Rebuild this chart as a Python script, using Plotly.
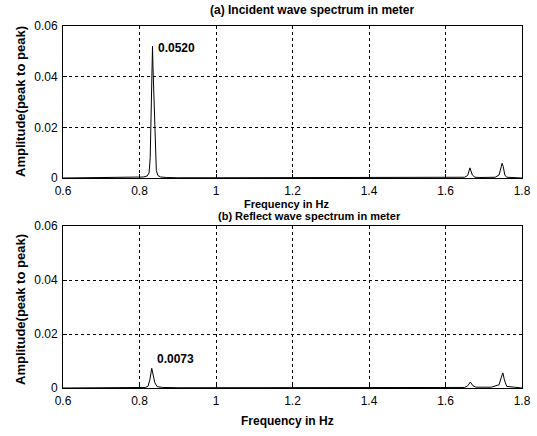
import plotly.graph_objects as go

# Frequency (Hz) and amplitude (m, peak to peak)
freq_a = [0.60, 0.70, 0.75, 0.80, 0.81, 0.82, 0.825, 0.828, 0.830, 0.832, 0.834, 0.835, 0.837,
          0.839, 0.841, 0.844, 0.848, 0.855, 0.87, 0.90, 1.00, 1.20, 1.40, 1.60, 1.65, 1.658,
          1.664, 1.670, 1.677, 1.69, 1.73, 1.740, 1.745, 1.748, 1.751, 1.755, 1.760, 1.77, 1.79, 1.80]
amp_a = [0.0, 0.0001, 0.0002, 0.0003, 0.0004, 0.0008, 0.002, 0.008, 0.020, 0.038, 0.052, 0.045, 0.035,
         0.022, 0.010, 0.003, 0.001, 0.0004, 0.0002, 0.0001, 0.0001, 0.0001, 0.0001, 0.0002, 0.0003, 0.001,
         0.004, 0.0012, 0.0003, 0.0002, 0.0003, 0.0012, 0.004, 0.0058, 0.0045, 0.0012, 0.0003, 0.0002, 0.0002, 0.0]

freq_b = [0.60, 0.70, 0.80, 0.815, 0.822, 0.827, 0.832, 0.836, 0.840, 0.846, 0.86, 0.90, 1.00,
          1.20, 1.40, 1.60, 1.65, 1.658, 1.665, 1.672, 1.68, 1.72, 1.740, 1.746, 1.750, 1.754,
          1.760, 1.78, 1.80]
amp_b = [0.0, 0.0001, 0.0001, 0.0002, 0.0006, 0.003, 0.0073, 0.005, 0.002, 0.0005, 0.0002, 0.0001, 0.0001,
         0.0001, 0.0001, 0.0001, 0.0002, 0.0008, 0.0022, 0.0008, 0.0003, 0.0003, 0.0012, 0.004, 0.0056, 0.003,
         0.0006, 0.0003, 0.0]

x_ticks = [0.6, 0.8, 1.0, 1.2, 1.4, 1.6, 1.8]
x_labels = ["0.6", "0.8", "1", "1.2", "1.4", "1.6", "1.8"]
y_ticks = [0, 0.02, 0.04, 0.06]
y_labels = ["0", "0.02", "0.04", "0.06"]

W, H = 537, 436
font = "Liberation Sans, Arial, sans-serif"

fig = go.Figure()
fig.add_trace(go.Scatter(x=freq_a, y=amp_a, mode="lines", line=dict(color="black", width=1),
                         xaxis="x", yaxis="y", showlegend=False))
fig.add_trace(go.Scatter(x=freq_b, y=amp_b, mode="lines", line=dict(color="black", width=1),
                         xaxis="x2", yaxis="y2", showlegend=False))

def px_x(p):
    return p / W

def px_y(p):
    return 1 - p / H

axis_common = dict(showline=True, linecolor="black", linewidth=1, mirror=True,
                   showgrid=True, gridcolor="black", griddash="dot", gridwidth=1,
                   ticks="inside", ticklen=4, tickcolor="black", zeroline=False,
                   automargin=False,
                   tickfont=dict(family=font, size=12, color="black"))

xdom = [px_x(63), px_x(522)]
fig.update_layout(
    width=W, height=H,
    margin=dict(l=0, r=0, t=0, b=0, pad=0),
    paper_bgcolor="white", plot_bgcolor="white",
    xaxis=dict(domain=xdom, range=[0.6, 1.8], tickvals=x_ticks, ticktext=x_labels,
               anchor="y", ticklabelstandoff=2, **axis_common),
    yaxis=dict(domain=[px_y(178), px_y(26)], range=[0, 0.06], tickvals=y_ticks, ticktext=y_labels,
               anchor="x", ticklabelstandoff=2, **axis_common),
    xaxis2=dict(domain=xdom, range=[0.6, 1.8], tickvals=x_ticks, ticktext=x_labels,
                anchor="y2", ticklabelstandoff=2, **axis_common),
    yaxis2=dict(domain=[px_y(388), px_y(226)], range=[0, 0.06], tickvals=y_ticks, ticktext=y_labels,
                anchor="x2", ticklabelstandoff=2, **axis_common),
)

def label(text, x, y, size=12, angle=0, xanchor="center"):
    fig.add_annotation(text="<b>" + text + "</b>", x=px_x(x), y=px_y(y), xref="paper", yref="paper",
                       showarrow=False, textangle=angle, xanchor=xanchor, yanchor="middle",
                       font=dict(family=font, size=size, color="black"))

label("(a) Incident wave spectrum in meter", 312, 10)
label("Frequency in Hz", 286, 204, size=11)
label("(b) Reflect wave spectrum in meter", 310, 216, size=11)
label("Frequency in Hz", 287, 421)
label("Amplitude(peak to peak)", 20, 102, size=13, angle=-90)
label("Amplitude(peak to peak)", 20, 310, size=13, angle=-90)

fig.add_annotation(text="<b>0.0520</b>", x=0.836, y=0.0515, xref="x", yref="y", showarrow=False,
                   xanchor="left", yanchor="middle", xshift=3,
                   font=dict(family=font, size=12, color="black"))
fig.add_annotation(text="<b>0.0073</b>", x=0.834, y=0.0073, xref="x2", yref="y2", showarrow=False,
                   xanchor="left", yanchor="bottom", xshift=2,
                   font=dict(family=font, size=12, color="black"))

fig.write_html("out.html")
